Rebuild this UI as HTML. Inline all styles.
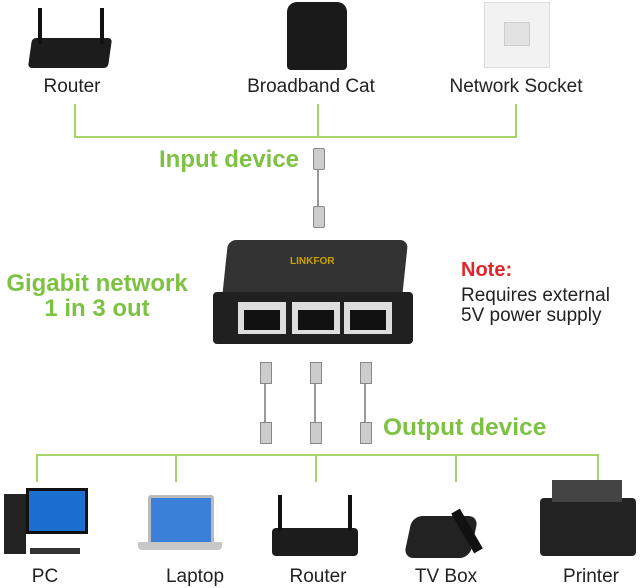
<!DOCTYPE html>
<html><head><meta charset="utf-8"><style>
body{margin:0;width:640px;height:587px;background:#fff;position:relative;overflow:hidden;font-family:"Liberation Sans",sans-serif}
.a{position:absolute}
.lbl{position:absolute;font-size:19px;color:#222;white-space:nowrap;transform:translateX(-50%)}
.g{position:absolute;color:#7dc242;font-weight:bold;white-space:nowrap}
.gl{position:absolute;background:#a6d46a}
</style></head><body>
<!-- top devices -->
<div class="a" style="left:30px;top:38px;width:80px;height:30px;background:#1c1c1c;border-radius:4px;transform:skewX(-8deg)"></div>
<div class="a" style="left:38px;top:8px;width:4px;height:36px;background:#111"></div>
<div class="a" style="left:100px;top:8px;width:4px;height:36px;background:#111"></div>
<div class="a" style="left:287px;top:2px;width:60px;height:68px;background:#1a1a1a;border-radius:10px 10px 4px 4px"></div>
<div class="a" style="left:484px;top:2px;width:64px;height:64px;background:#f2f2f2;border:1px solid #ddd"></div>
<div class="a" style="left:504px;top:22px;width:24px;height:22px;background:#e2e2e2;border:1px solid #ccc"></div>
<div class="lbl" style="left:72px;top:76px">Router</div>
<div class="lbl" style="left:311px;top:76px">Broadband Cat</div>
<div class="lbl" style="left:516px;top:76px">Network Socket</div>
<div class="gl" style="left:74px;top:104px;width:2px;height:34px"></div>
<div class="gl" style="left:317px;top:104px;width:2px;height:34px"></div>
<div class="gl" style="left:515px;top:104px;width:2px;height:34px"></div>
<div class="gl" style="left:74px;top:136px;width:443px;height:2px"></div>
<div class="g" style="left:159px;top:146px;font-size:24px">Input device</div>
<!-- input cable -->
<div class="a" style="left:317px;top:150px;width:2px;height:76px;background:#999"></div>
<div class="a" style="left:313px;top:148px;width:10px;height:20px;background:#ccc;border:1px solid #888;border-radius:2px"></div>
<div class="a" style="left:313px;top:206px;width:10px;height:20px;background:#ccc;border:1px solid #888;border-radius:2px"></div>
<!-- splitter -->
<div class="a" style="left:225px;top:240px;width:180px;height:60px;background:#333;border-radius:8px 8px 0 0;transform:skewX(-6deg)"></div>
<div class="a" style="left:213px;top:292px;width:200px;height:52px;background:#202020;border-radius:4px"></div>
<div class="a" style="left:290px;top:256px;font-size:10px;color:#c8a000;font-weight:bold">LINKFOR</div>
<div class="a" style="left:238px;top:302px;width:48px;height:32px;background:#ddd"></div>
<div class="a" style="left:292px;top:302px;width:48px;height:32px;background:#ddd"></div>
<div class="a" style="left:344px;top:302px;width:48px;height:32px;background:#ddd"></div>
<div class="a" style="left:244px;top:310px;width:36px;height:20px;background:#111"></div>
<div class="a" style="left:298px;top:310px;width:36px;height:20px;background:#111"></div>
<div class="a" style="left:350px;top:310px;width:36px;height:20px;background:#111"></div>
<div class="g" style="left:0px;top:271px;font-size:24px;text-align:center;width:194px;line-height:25px">Gigabit network<br>1 in 3 out</div>
<div class="a" style="left:461px;top:259px;font-size:20px;color:#e0262b;font-weight:bold">Note:</div>
<div class="a" style="left:461px;top:286px;font-size:19px;color:#222;line-height:20px">Requires external<br>5V power supply</div>
<!-- output cables -->
<div class="a" style="left:264px;top:364px;width:2px;height:80px;background:#999"></div>
<div class="a" style="left:314px;top:364px;width:2px;height:80px;background:#999"></div>
<div class="a" style="left:364px;top:364px;width:2px;height:80px;background:#999"></div>
<div class="a" style="left:260px;top:362px;width:10px;height:20px;background:#ccc;border:1px solid #888"></div>
<div class="a" style="left:310px;top:362px;width:10px;height:20px;background:#ccc;border:1px solid #888"></div>
<div class="a" style="left:360px;top:362px;width:10px;height:20px;background:#ccc;border:1px solid #888"></div>
<div class="a" style="left:260px;top:422px;width:10px;height:20px;background:#ccc;border:1px solid #888"></div>
<div class="a" style="left:310px;top:422px;width:10px;height:20px;background:#ccc;border:1px solid #888"></div>
<div class="a" style="left:360px;top:422px;width:10px;height:20px;background:#ccc;border:1px solid #888"></div>
<div class="g" style="left:383px;top:414px;font-size:24.5px">Output device</div>
<div class="gl" style="left:36px;top:454px;width:563px;height:2px"></div>
<div class="gl" style="left:36px;top:454px;width:2px;height:28px"></div>
<div class="gl" style="left:175px;top:454px;width:2px;height:28px"></div>
<div class="gl" style="left:315px;top:454px;width:2px;height:28px"></div>
<div class="gl" style="left:455px;top:454px;width:2px;height:28px"></div>
<div class="gl" style="left:597px;top:454px;width:2px;height:28px"></div>
<!-- bottom devices -->
<div class="a" style="left:4px;top:494px;width:22px;height:60px;background:#222"></div>
<div class="a" style="left:26px;top:488px;width:56px;height:40px;background:#1a6fd0;border:3px solid #111"></div>
<div class="a" style="left:30px;top:548px;width:50px;height:6px;background:#333"></div>
<div class="a" style="left:148px;top:495px;width:60px;height:44px;background:#3a80d8;border:3px solid #bbb;border-radius:3px"></div>
<div class="a" style="left:138px;top:542px;width:84px;height:8px;background:#c8c8c8;border-radius:0 0 4px 4px"></div>
<div class="a" style="left:272px;top:528px;width:86px;height:28px;background:#1c1c1c;border-radius:4px"></div>
<div class="a" style="left:278px;top:495px;width:4px;height:36px;background:#111"></div>
<div class="a" style="left:348px;top:495px;width:4px;height:36px;background:#111"></div>
<div class="a" style="left:408px;top:516px;width:66px;height:42px;background:#222;border-radius:10px;transform:skewX(-12deg)"></div>
<div class="a" style="left:462px;top:508px;width:10px;height:46px;background:#111;transform:rotate(-30deg)"></div>
<div class="a" style="left:540px;top:498px;width:96px;height:58px;background:#222;border-radius:4px"></div>
<div class="a" style="left:552px;top:480px;width:70px;height:22px;background:#444"></div>
<div class="lbl" style="left:45px;top:566px">PC</div>
<div class="lbl" style="left:195px;top:566px">Laptop</div>
<div class="lbl" style="left:318px;top:566px">Router</div>
<div class="lbl" style="left:446px;top:566px">TV Box</div>
<div class="lbl" style="left:591px;top:566px">Printer</div>
</body></html>
